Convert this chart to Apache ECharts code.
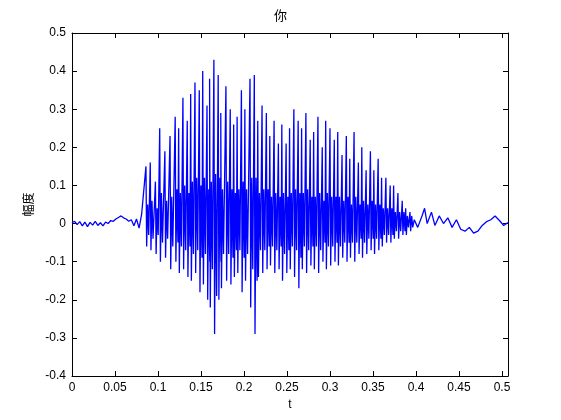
<!DOCTYPE html>
<html>
<head>
<meta charset="utf-8">
<script src="https://cdn.jsdelivr.net/npm/echarts@6/dist/echarts.min.js"></script>
<style>html,body{margin:0;padding:0;background:#fff}#chart{width:561px;height:420px}</style>
</head>
<body>
<div id="chart"></div>
<script>
// quiet lead-in before voicing
var leadT = [0,0.003,0.006,0.009,0.012,0.015,0.018,0.021,0.024,0.027,0.030,0.033,0.036,0.039,0.042,0.045,0.048,0.051,0.054,0.057,0.060,0.063,0.066,0.069,0.072,0.075,0.078,0.081];
var leadV = [0.002,0.006,-0.003,0.005,-0.006,0.004,-0.008,0.003,-0.004,0.006,-0.005,0.002,-0.006,0.004,0.0,0.008,0.006,0.012,0.016,0.020,0.015,0.012,0.006,0.010,-0.006,0.012,-0.012,0.025];
// pitch pulses
var pulseT = [.086,.091,.097,.102,.108,.114,.120,.124,.129,.134,.138,.143,.148,.152,.157,.160,.165,.170,.173,.179,.184,.188,.192,.197,.201,.207,.212,.216,.221,.226,.230,.235,.240,.244,.249,.253,.258,.263,.267,.272,.277,.281,.286,.291,.295,.300,.305,.309,.314,.319,.323,.328,.333,.337,.342,.347,.351,.356,.360,.365,.370,.374,.379,.384,.388,.393];
var pulsePeak = [.15,.16,.11,.25,.19,.23,.28,.25,.33,.27,.34,.37,.35,.40,.31,.38,.43,.39,.29,.36,.30,.26,.28,.35,.30,.38,.39,.27,.31,.29,.23,.27,.21,.26,.21,.25,.30,.27,.25,.29,.22,.24,.28,.20,.27,.25,.22,.24,.18,.23,.17,.24,.16,.20,.14,.19,.14,.17,.12,.12,.10,.10,.08,.06,.04,.03];
var pulseLow = [-.06,-.07,-.08,-.10,-.09,-.12,-.10,-.13,-.12,-.14,-.15,-.13,-.18,-.16,-.20,-.22,-.29,-.20,-.17,-.15,-.16,-.14,-.13,-.18,-.15,-.22,-.29,-.14,-.13,-.12,-.11,-.13,-.12,-.15,-.13,-.12,-.14,-.17,-.12,-.13,-.11,-.12,-.13,-.10,-.12,-.11,-.10,-.11,-.09,-.10,-.09,-.10,-.08,-.09,-.08,-.07,-.08,-.07,-.06,-.05,-.05,-.04,-.04,-.03,-.03,-.02];
var pulseMid = [.05,.06,.04,.08,.06,.07,.09,.08,.10,.08,.11,.12,.10,.12,.09,.11,.13,.12,.09,.11,.09,.08,.09,.11,.09,.12,.12,.08,.09,.09,.07,.08,.07,.08,.07,.08,.09,.08,.08,.09,.07,.07,.08,.06,.08,.07,.07,.07,.06,.07,.05,.07,.05,.06,.05,.06,.05,.05,.04,.04,.04,.03,.03,.03,.02,.02];
var pulseDip = [-.03,-.04,-.03,-.05,-.04,-.06,-.05,-.06,-.07,-.06,-.08,-.07,-.09,-.08,-.10,-.12,-.19,-.10,-.08,-.08,-.09,-.07,-.07,-.09,-.08,-.12,-.15,-.07,-.07,-.06,-.06,-.07,-.06,-.08,-.07,-.06,-.07,-.09,-.06,-.07,-.06,-.06,-.07,-.05,-.06,-.06,-.05,-.06,-.05,-.05,-.05,-.05,-.04,-.05,-.04,-.04,-.04,-.04,-.03,-.03,-.03,-.02,-.02,-.02,-.01,-.01];
// decaying tail
var tailT = [0.398,0.402,0.407,0.410,0.413,0.418,0.422,0.427,0.432,0.437,0.442,0.447,0.452,0.457,0.462,0.467,0.472,0.477,0.482,0.487,0.492,0.497,0.502,0.507];
var tailV = [0.01,-0.01,0.02,0.04,0.0,0.03,-0.005,0.02,0.0,0.015,-0.01,0.01,-0.015,-0.02,-0.01,-0.025,-0.02,-0.005,0.005,0.01,0.02,0.008,-0.005,0.003];

var pts = [];
for (var i = 0; i < leadT.length; i++) pts.push([leadT[i], leadV[i]]);
for (var j = 0; j < pulseT.length; j++) {
  pts.push([pulseT[j], pulsePeak[j]]);
  pts.push([pulseT[j] + 0.0008, pulseLow[j]]);
  pts.push([pulseT[j] + 0.002, pulseMid[j]]);
  pts.push([pulseT[j] + 0.0032, pulseDip[j]]);
}
for (var k = 0; k < tailT.length; k++) pts.push([tailT[k], tailV[k]]);

var font = 'Liberation Sans';
var axLine = {show: true, onZero: false, lineStyle: {color: '#000', width: 1}};
var tick = {show: true, inside: true, length: 5, lineStyle: {color: '#000'}};
var chart = echarts.init(document.getElementById('chart'));
chart.setOption({
  animation: false,
  title: {text: '你', left: 'center', top: 4, textStyle: {fontSize: 13, fontWeight: 'normal', color: '#000', fontFamily: 'Noto Sans CJK SC'}},
  grid: {left: 72, right: 53, top: 33, bottom: 44},
  xAxis: [
    {type: 'value', min: 0, max: 0.507, interval: 0.05, name: 't', nameLocation: 'middle', nameGap: 20,
     nameTextStyle: {color: '#000', fontSize: 12, fontFamily: font},
     axisLine: axLine, axisTick: tick, splitLine: {show: false},
     axisLabel: {color: '#000', fontSize: 12, fontFamily: font, margin: 6, showMaxLabel: false,
       formatter: function (v) { return String(Math.round(v * 100) / 100); }}},
    {type: 'value', position: 'top', min: 0, max: 0.507, interval: 0.05, axisLine: axLine, axisTick: tick, axisLabel: {show: false}, splitLine: {show: false}}
  ],
  yAxis: [
    {type: 'value', min: -0.4, max: 0.5, interval: 0.1, name: '幅度', nameLocation: 'middle', nameGap: 36,
     nameTextStyle: {color: '#000', fontSize: 12, fontFamily: 'Noto Sans CJK SC'},
     axisLine: axLine, axisTick: tick, splitLine: {show: false},
     axisLabel: {color: '#000', fontSize: 12, fontFamily: font, margin: 6,
       formatter: function (v) { return String(Math.round(v * 10) / 10); }}},
    {type: 'value', position: 'right', min: -0.4, max: 0.5, interval: 0.1, axisLine: axLine, axisTick: tick, axisLabel: {show: false}, splitLine: {show: false}}
  ],
  series: [{type: 'line', data: pts, showSymbol: false, lineStyle: {color: '#0000ff', width: 1.3}}]
});
</script>
</body>
</html>
